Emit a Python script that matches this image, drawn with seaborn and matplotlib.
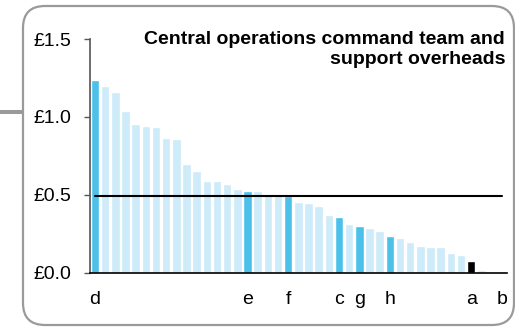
import matplotlib
matplotlib.use("Agg")
import matplotlib.pyplot as plt
from matplotlib.patches import FancyBboxPatch, Rectangle
from matplotlib.transforms import IdentityTransform
import seaborn as sns
import pandas as pd

# Cost per unit (GBP millions), sorted from highest to lowest
values = [1.24, 1.20, 1.16, 1.035, 0.955, 0.94, 0.935, 0.865, 0.86, 0.695,
          0.653, 0.586, 0.586, 0.571, 0.537, 0.526, 0.526, 0.502, 0.498, 0.49,
          0.456, 0.451, 0.427, 0.369, 0.357, 0.316, 0.301, 0.290, 0.271, 0.235,
          0.226, 0.200, 0.174, 0.168, 0.164, 0.127, 0.116, 0.078, 0.020, 0.0,
          0.0]
# Labelled units and their bar positions
labels = {0: "d", 15: "e", 19: "f", 24: "c", 26: "g", 29: "h", 37: "a", 40: "b"}
# Units picked out in strong blue; the focus unit in black
highlight = [0, 15, 19, 24, 26, 29]
focus = [37]
average = 0.49
title = "Central operations command team and\nsupport overheads"
yticks = [0.0, 0.5, 1.0, 1.5]

def group(i):
    if i in focus:
        return "focus"
    if i in highlight:
        return "highlight"
    return "other"

df = pd.DataFrame({"pos": range(len(values)), "value": values})
df["group"] = [group(i) for i in df["pos"]]
palette = {"other": "#cdebf9", "highlight": "#4bc1ea", "focus": "#000000"}

sns.set_theme(style="white")
plt.rcParams["font.family"] = ["Liberation Sans", "DejaVu Sans"]
plt.rcParams["text.color"] = "black"
plt.rcParams["xtick.color"] = "black"
plt.rcParams["ytick.color"] = "black"

W, H = 515, 328
fig = plt.figure(figsize=(W / 100, H / 100), dpi=100)

# Rounded panel frame and connector stub (pixel coordinates)
frame = FancyBboxPatch((23, H - 325), 491, 319,
                       boxstyle="round,pad=0,rounding_size=22",
                       transform=IdentityTransform(), facecolor="none",
                       edgecolor="#9a9a9a", linewidth=1.6, zorder=-5)
fig.patches.append(frame)
stub = Rectangle((0, H - 114), 23, 4, transform=IdentityTransform(),
                 facecolor="#9a9a9a", edgecolor="none", zorder=-5)
fig.patches.append(stub)

ax = fig.add_axes([89.7 / W, (H - 272.8) / H, 417.3 / W, 233.8 / H])
ax.patch.set_alpha(0)

sns.barplot(data=df, x="pos", y="value", hue="group", palette=palette,
            dodge=False, width=0.84, legend=False, ax=ax, saturation=1)

ax.plot([0, len(values) - 1], [average, average], color="black",
        linewidth=1.5, zorder=5)

ax.set_xlim(-0.52, len(values) - 0.48)
ax.set_ylim(0, 1.5)
ax.set_yticks(yticks)
ax.set_yticklabels([f"£{v:.1f}" for v in yticks], fontsize=14)
ax.set_xticks(list(labels.keys()))
ax.set_xticklabels(list(labels.values()), fontsize=14)
ax.tick_params(axis="x", length=0, pad=13, labelcolor="black")
ax.tick_params(axis="y", length=4.5, width=1, color="#555555", pad=8.5,
               direction="out", left=True, labelcolor="black")
ax.set_xlabel("")
ax.set_ylabel("")
for s in ["top", "right"]:
    ax.spines[s].set_visible(False)
ax.spines["left"].set_color("#555555")
ax.spines["left"].set_linewidth(1.2)
ax.spines["bottom"].set_color("black")
ax.spines["bottom"].set_linewidth(1.2)

fig.text(505 / W, 1 - 31 / H, title, ha="right", va="top", color="black",
         fontsize=14, fontweight="bold", linespacing=1.25)

fig.savefig("out.png", dpi=100)
